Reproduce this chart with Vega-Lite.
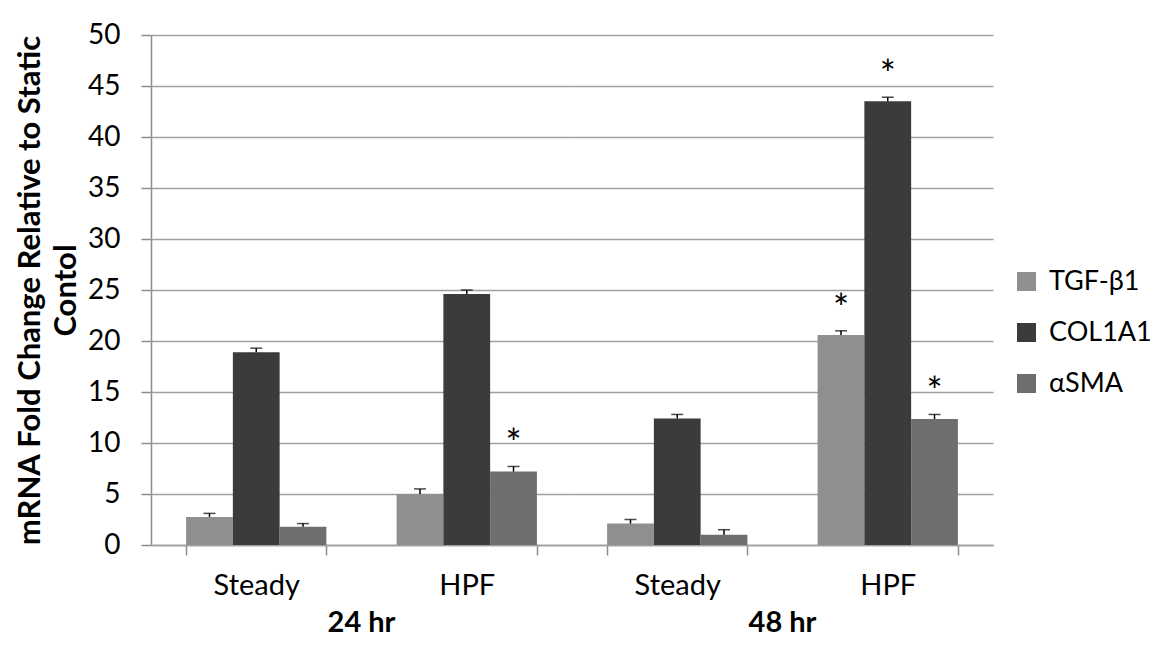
{
  "$schema": "https://vega.github.io/schema/vega-lite/v6.json",
  "background": "white",
  "padding": {"left": 14, "top": 21, "right": 5, "bottom": 5},
  "data": {"values": [
    {"time": "24 hr", "cond": "Steady", "gene": "TGF-β1", "value": 2.75, "hi": 3.1, "sig": ""},
    {"time": "24 hr", "cond": "Steady", "gene": "COL1A1", "value": 18.9, "hi": 19.3, "sig": ""},
    {"time": "24 hr", "cond": "Steady", "gene": "αSMA", "value": 1.8, "hi": 2.1, "sig": ""},
    {"time": "24 hr", "cond": "HPF", "gene": "TGF-β1", "value": 5.0, "hi": 5.5, "sig": ""},
    {"time": "24 hr", "cond": "HPF", "gene": "COL1A1", "value": 24.6, "hi": 25.0, "sig": ""},
    {"time": "24 hr", "cond": "HPF", "gene": "αSMA", "value": 7.2, "hi": 7.7, "sig": "*"},
    {"time": "48 hr", "cond": "Steady", "gene": "TGF-β1", "value": 2.1, "hi": 2.5, "sig": ""},
    {"time": "48 hr", "cond": "Steady", "gene": "COL1A1", "value": 12.4, "hi": 12.8, "sig": ""},
    {"time": "48 hr", "cond": "Steady", "gene": "αSMA", "value": 1.0, "hi": 1.5, "sig": ""},
    {"time": "48 hr", "cond": "HPF", "gene": "TGF-β1", "value": 20.6, "hi": 21.0, "sig": "*"},
    {"time": "48 hr", "cond": "HPF", "gene": "COL1A1", "value": 43.5, "hi": 43.9, "sig": "*"},
    {"time": "48 hr", "cond": "HPF", "gene": "αSMA", "value": 12.35, "hi": 12.8, "sig": "*"}
  ]},
  "facet": {
    "column": {
      "field": "time", "type": "nominal", "sort": ["24 hr", "48 hr"], "title": null,
      "header": {"labelOrient": "bottom", "labelFont": "Lato", "labelFontSize": 29, "labelFontWeight": "bold", "labelColor": "black", "labelPadding": 9}
    }
  },
  "spacing": 0,
  "spec": {
    "width": 421,
    "height": 510,
    "encoding": {
      "x": {
        "field": "cond", "type": "nominal", "sort": ["Steady", "HPF"], "title": null,
        "scale": {"paddingInner": 0.3335, "paddingOuter": 0.16675},
        "axis": {"labelAngle": 0, "tickBand": "extent", "labelFont": "Lato", "labelFontSize": 29, "labelColor": "black", "domainColor": "#8c8c8c", "tickColor": "#8c8c8c", "tickSize": 10, "labelPadding": 16, "domainWidth": 1.5, "tickWidth": 1.5}
      },
      "xOffset": {"field": "gene", "type": "nominal", "sort": ["TGF-β1", "COL1A1", "αSMA"], "scale": {"paddingInner": 0, "paddingOuter": 0}}
    },
    "layer": [
      {
        "mark": {"type": "bar"},
        "encoding": {
          "y": {
            "field": "value", "type": "quantitative", "scale": {"domain": [0, 50]},
            "title": ["mRNA Fold Change Relative to Static", "Contol"],
            "axis": {"values": [0, 5, 10, 15, 20, 25, 30, 35, 40, 45, 50], "grid": true, "gridColor": "#a0a0a0", "gridWidth": 1.5, "domainColor": "#8c8c8c", "domainWidth": 1.5, "tickColor": "#8c8c8c", "tickWidth": 1.5, "tickSize": 10, "labelFont": "Lato", "labelFontSize": 28, "labelColor": "black", "labelPadding": 21, "titleFont": "Lato", "titleFontSize": 31, "titleFontWeight": "bold", "titleColor": "black", "titleLineHeight": 36, "titlePadding": 5}
          },
          "color": {
            "field": "gene", "type": "nominal", "sort": ["TGF-β1", "COL1A1", "αSMA"],
            "scale": {"domain": ["TGF-β1", "COL1A1", "αSMA"], "range": ["#8f8f8f", "#3b3b3b", "#6e6e6e"]},
            "legend": {"orient": "none", "legendX": 862, "legendY": 233, "title": null, "symbolType": "square", "symbolSize": 361, "symbolStrokeWidth": 0, "labelFont": "Lato", "labelFontSize": 27, "labelColor": "black", "rowPadding": 23, "labelOffset": 9}
          }
        }
      },
      {
        "mark": {"type": "rule", "color": "black", "strokeWidth": 1.5},
        "encoding": {"y": {"field": "value", "type": "quantitative"}, "y2": {"field": "hi"}}
      },
      {
        "mark": {"type": "tick", "color": "black", "thickness": 1.5, "size": 12},
        "encoding": {"y": {"field": "hi", "type": "quantitative"}}
      },
      {
        "mark": {"type": "text", "font": "Lato", "fontSize": 38, "baseline": "alphabetic", "dy": -9, "color": "black"},
        "encoding": {"y": {"field": "hi", "type": "quantitative"}, "text": {"field": "sig"}}
      }
    ]
  },
  "config": {"view": {"stroke": null}}
}
